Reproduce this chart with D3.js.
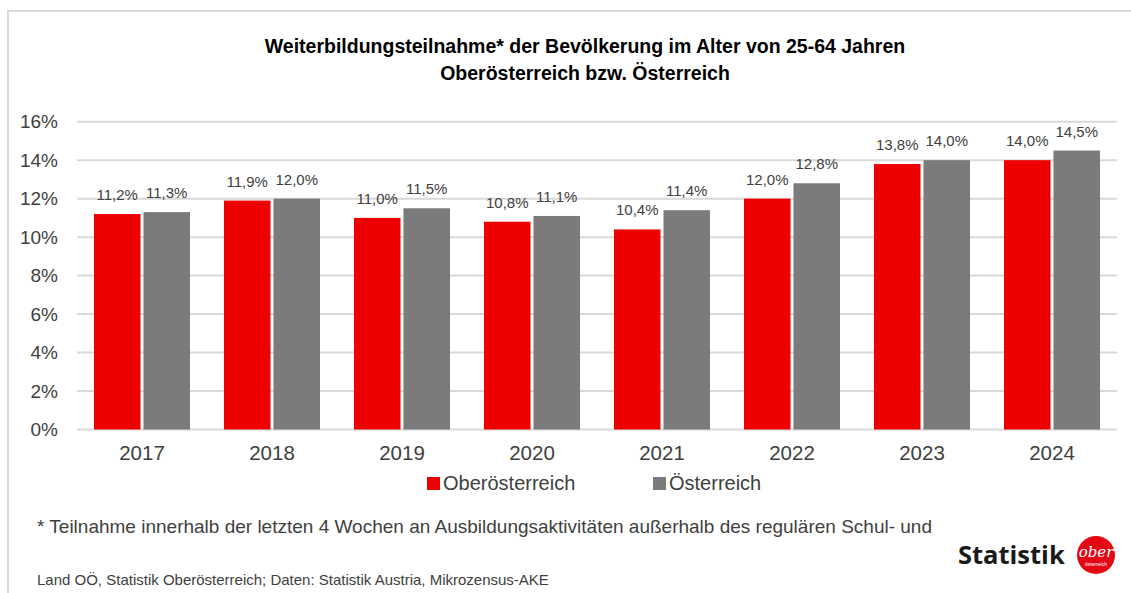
<!DOCTYPE html>
<html>
<head>
<meta charset="utf-8">
<script src="https://cdn.jsdelivr.net/npm/d3@7"></script>
<style>
  body { margin: 0; background: #fff; }
  svg text { font-family: "Liberation Sans Narrow", "Liberation Sans", Arial, sans-serif; }
</style>
</head>
<body>
<div id="chart"></div>
<script>
var years = ["2017", "2018", "2019", "2020", "2021", "2022", "2023", "2024"];
var seriesNames = ["Oberösterreich", "Österreich"];
var ooeValues = [11.2, 11.9, 11.0, 10.8, 10.4, 12.0, 13.8, 14.0];
var oeValues = [11.3, 12.0, 11.5, 11.1, 11.4, 12.8, 14.0, 14.5];
var yTicks = [0, 2, 4, 6, 8, 10, 12, 14, 16];
var colors = ["#ee0000", "#7b7b7b"];

var width = 1131, height = 593;
var plot = { left: 77, right: 1117, top: 121.7, bottom: 429.5 };

var svg = d3.select("#chart").append("svg")
    .attr("width", width)
    .attr("height", height);

// outer frame (only top + left visible in the source)
svg.append("path")
    .attr("d", "M8,600 L8,11 L1140,11")
    .attr("fill", "none")
    .attr("stroke", "#d9d9d9")
    .attr("stroke-width", 2);

// title
svg.append("text")
    .attr("x", 585).attr("y", 53)
    .attr("text-anchor", "middle")
    .style("font-size", "19.5px").style("font-weight", "bold")
    .text("Weiterbildungsteilnahme* der Bevölkerung im Alter von 25-64 Jahren");
svg.append("text")
    .attr("x", 585).attr("y", 80)
    .attr("text-anchor", "middle")
    .style("font-size", "19.5px").style("font-weight", "bold")
    .text("Oberösterreich bzw. Österreich");

var x = d3.scaleBand().domain(years).range([plot.left, plot.right]).paddingInner(0).paddingOuter(0);
var y = d3.scaleLinear().domain([0, 16]).range([plot.bottom, plot.top]);
var xs = d3.scaleBand().domain(seriesNames).range([x.bandwidth() / 2 - 48, x.bandwidth() / 2 + 48]).paddingInner(0.06);

// gridlines
svg.append("g")
    .selectAll("line")
    .data(yTicks)
    .join("line")
    .attr("x1", plot.left).attr("x2", plot.right)
    .attr("y1", function(d) { return y(d); })
    .attr("y2", function(d) { return y(d); })
    .attr("stroke", "#d9d9d9")
    .attr("stroke-width", 2);

// y axis labels
var yAxis = d3.axisLeft(y).tickValues(yTicks).tickSize(0).tickPadding(0)
    .tickFormat(function(d) { return d + "%"; });
var yg = svg.append("g").attr("transform", "translate(58,0)").call(yAxis);
yg.select(".domain").remove();
yg.selectAll("text")
    .style("font-family", "'Liberation Sans', Arial, sans-serif")
    .style("font-size", "19px").attr("fill", "#404040");

// x axis labels
var xAxis = d3.axisBottom(x).tickSize(0).tickPadding(0);
var xg = svg.append("g").attr("transform", "translate(0," + (plot.bottom + 16) + ")").call(xAxis);
xg.select(".domain").remove();
xg.selectAll("text")
    .style("font-family", "'Liberation Sans', Arial, sans-serif")
    .style("font-size", "20.5px").attr("fill", "#404040");

var rows = years.map(function(yr, i) {
    return { year: yr, values: [ooeValues[i], oeValues[i]] };
});

var groups = svg.append("g").selectAll("g")
    .data(rows)
    .join("g")
    .attr("transform", function(d) { return "translate(" + x(d.year) + ",0)"; });

groups.selectAll("rect")
    .data(function(d) { return d.values.map(function(v, j) { return { s: seriesNames[j], v: v, j: j }; }); })
    .join("rect")
    .attr("x", function(d) { return xs(d.s); })
    .attr("width", xs.bandwidth())
    .attr("y", function(d) { return y(d.v); })
    .attr("height", function(d) { return plot.bottom - y(d.v); })
    .attr("fill", function(d) { return colors[d.j]; });

groups.selectAll("text.val")
    .data(function(d) { return d.values.map(function(v, j) { return { s: seriesNames[j], v: v }; }); })
    .join("text")
    .attr("class", "val")
    .attr("x", function(d) { return xs(d.s) + xs.bandwidth() / 2; })
    .attr("y", function(d) { return y(d.v) - 14; })
    .attr("text-anchor", "middle")
    .style("font-family", "'Liberation Sans', Arial, sans-serif")
    .style("font-size", "15px")
    .attr("fill", "#404040")
    .text(function(d) { return d3.format(".1f")(d.v).replace(".", ",") + "%"; });

// legend
var legendX = [427, 653];
var lg = svg.append("g").selectAll("g")
    .data(seriesNames)
    .join("g")
    .attr("transform", function(d, i) { return "translate(" + legendX[i] + ",477)"; });
lg.append("rect").attr("width", 13).attr("height", 13)
    .attr("fill", function(d, i) { return colors[i]; });
lg.append("text").attr("x", 16).attr("y", 13)
    .style("font-family", "'Liberation Sans', Arial, sans-serif")
    .style("font-size", "20px").attr("fill", "#404040")
    .text(function(d) { return d; });

// footnote
svg.append("text")
    .attr("x", 37).attr("y", 533)
    .style("font-family", "'Liberation Sans', Arial, sans-serif")
    .style("font-size", "19px").attr("fill", "#404040")
    .text("* Teilnahme innerhalb der letzten 4 Wochen an Ausbildungsaktivitäten außerhalb des regulären Schul- und");

// source
svg.append("text")
    .attr("x", 37).attr("y", 585)
    .style("font-size", "15px").attr("fill", "#404040")
    .text("Land OÖ, Statistik Oberösterreich; Daten: Statistik Austria, Mikrozensus-AKE");

// logo
svg.append("text")
    .attr("x", 958).attr("y", 564)
    .style("font-family", "'Open Sans', sans-serif")
    .style("font-size", "25.5px").style("font-weight", "bold")
    .attr("fill", "#1a1a1a")
    .text("Statistik");
svg.append("circle").attr("cx", 1096).attr("cy", 555).attr("r", 19).attr("fill", "#e30613");
svg.append("text").attr("x", 1096).attr("y", 557).attr("text-anchor", "middle")
    .style("font-family", "'DejaVu Serif', serif").style("font-style", "italic")
    .style("font-size", "15px").attr("fill", "#fff").text("ober");
svg.append("text").attr("x", 1096).attr("y", 566).attr("text-anchor", "middle")
    .style("font-size", "5px").attr("fill", "#fff").text("österreich");
</script>
</body>
</html>
